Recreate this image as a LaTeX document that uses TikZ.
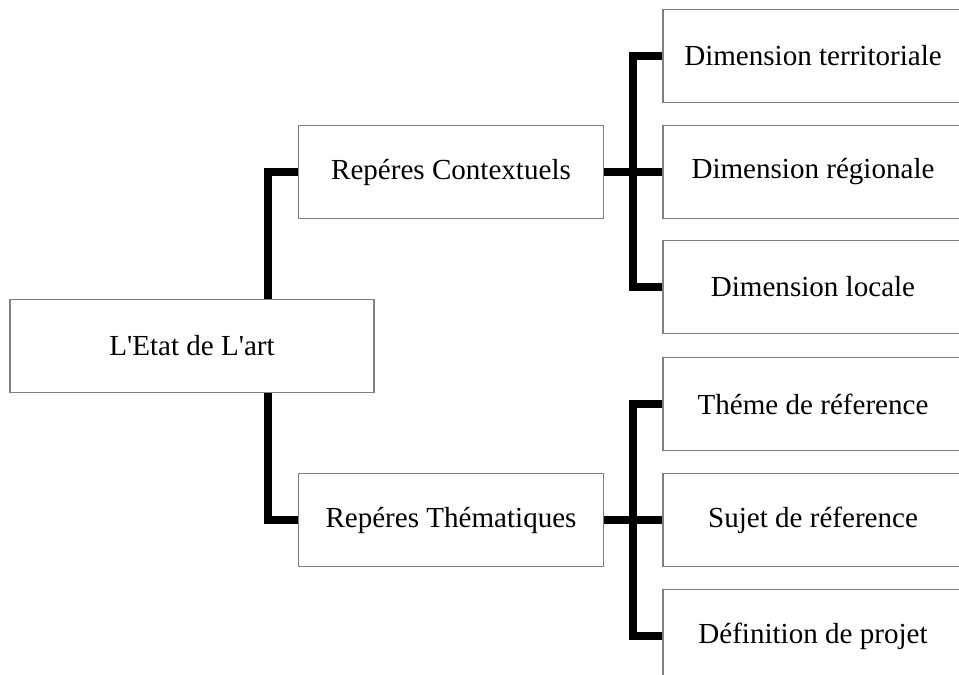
\documentclass[tikz,border=0pt]{standalone}
\usepackage{fontspec}
\setmainfont{Liberation Serif}

\begin{document}
\begin{tikzpicture}[x=0.75pt, y=-0.75pt,
    box/.style={draw=black!50, line width=0.8pt, minimum width=#1, minimum height=70pt, inner sep=0pt, font=\fontsize{21.8}{26}\selectfont},
    link/.style={line width=5.6pt}]
    \useasboundingbox (0, 0) rectangle (959, 674);
    \clip (0, 0) rectangle (959, 674);

    \node [box=273pt] (root) at (192, 346) {L\textquotesingle Etat de L\textquotesingle art};
    \node [box=229pt] (ctx) at (451, 172) {Repéres Contextuels};
    \node [box=229pt] (them) at (451, 520) {Repéres Thématiques};

    \node [box=225pt] (terr) at (813, 56) {Dimension territoriale};
    \node [box=225pt] (reg) at (813, 172) {Dimension régionale};
    \node [box=225pt] (loc) at (813, 287) {Dimension locale};
    \node [box=225pt] (theme) at (813, 404) {Théme de réference};
    \node [box=225pt] (sujet) at (813, 520) {Sujet de réference};
    \node [box=225pt] (def) at (813, 636) {Définition de projet};

    \coordinate (trunk) at (268, 346);
    \coordinate (forkA) at (633, 172);
    \coordinate (forkB) at (633, 520);

    \draw [link] (root.north -| trunk) |- (ctx.west);
    \draw [link] (root.south -| trunk) |- (them.west);

    \draw [link] (ctx.east) -- (reg.west);
    \draw [link] (terr.west) -| (forkA) |- (loc.west);

    \draw [link] (them.east) -- (sujet.west);
    \draw [link] (theme.west) -| (forkB) |- (def.west);
\end{tikzpicture}
\end{document}
